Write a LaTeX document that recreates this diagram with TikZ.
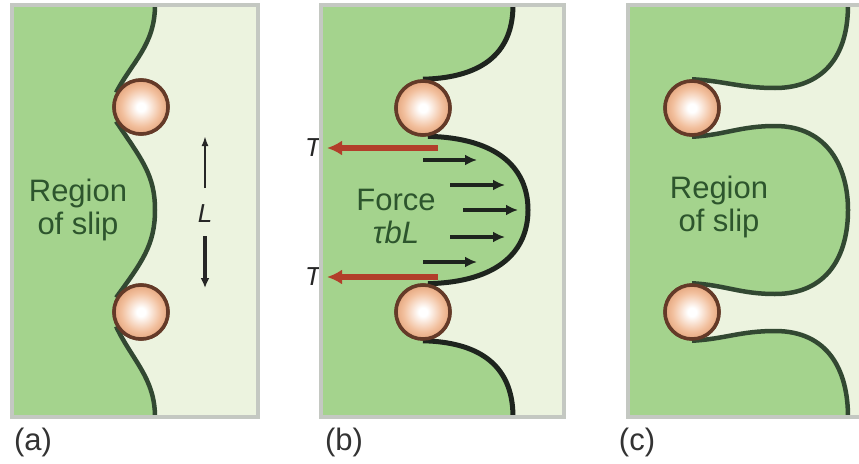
\documentclass[tikz,border=0pt]{standalone}
\usepackage{fontspec}
\setmainfont{Liberation Sans}
\usetikzlibrary{arrows.meta}
\definecolor{slipgreen}{RGB}{164,211,141}
\definecolor{paleg}{RGB}{236,243,223}
\definecolor{frameg}{RGB}{196,200,194}
\definecolor{lineg}{RGB}{50,72,50}
\definecolor{lineb}{RGB}{30,36,30}
\definecolor{txtg}{RGB}{45,85,45}
\definecolor{tred}{RGB}{178,62,42}
\definecolor{pout}{RGB}{218,145,100}
\definecolor{pmid}{RGB}{242,192,158}
\definecolor{prim}{RGB}{100,58,40}
\pgfdeclareradialshading{ballshade}{\pgfpoint{0bp}{0bp}}{color(0bp)=(white); color(4bp)=(white); color(18bp)=(pmid); color(31bp)=(pout); color(50bp)=(pout)}
\tikzset{
  frame/.style={draw=frameg, line width=3.5pt},
  bnd/.style={draw=lineg, line width=4.5pt},
  bndb/.style={draw=lineb, line width=5pt},
  particle/.style={circle, minimum size=54pt, inner sep=0pt, draw=prim, line width=3.5pt, shading=ballshade},
  lbl/.style={font=\fontsize{31}{33}\selectfont, text=txtg, align=center},
  captxt/.style={font=\fontsize{31}{33}\selectfont, text=black!80},
  sym/.style={font=\fontsize{26}{28}\selectfont\itshape, text=black!85},
  tarrow/.style={draw=tred, line width=6pt, -{Latex[length=15pt,width=15pt]}},
  farrow/.style={draw=lineb, line width=3.2pt, -{Latex[length=12pt,width=11pt]}},
}
\begin{document}
\begin{tikzpicture}[x=1pt,y=-1pt]
\useasboundingbox (0,0) rectangle (859,463);
% ---------- panel (a)
\fill[paleg] (12,5) rectangle (258,417);
\fill[slipgreen] (12,5) -- (155,5) .. controls (155,45) and (132,62) .. (122,85) -- (141,107) -- (122,130)
  .. controls (142,160) and (155,175) .. (155,210) .. controls (155,245) and (142,262) .. (122,290)
  -- (141,312) -- (122,335) .. controls (132,360) and (155,378) .. (155,417) -- (12,417) -- cycle;
\coordinate (atop) at (155,5);
\coordinate (abot) at (155,417);
\node[particle] (pa1) at (141,107) {};
\node[particle] (pa2) at (141,312) {};
\draw[bnd] (atop) .. controls (155,45) and (132,62) .. (pa1.150);
\draw[bnd] (pa1.210) .. controls (142,160) and (155,175) .. (155,210) .. controls (155,245) and (142,262) .. (pa2.150);
\draw[bnd] (pa2.210) .. controls (132,360) and (155,378) .. (abot);
\node[particle] at (pa1) {};
\node[particle] at (pa2) {};
\node[lbl] (ra) at (78,210) {Region\\of slip};
\node[sym] (L) at (205,214) {L};
\coordinate (la1) at (205,188);
\coordinate (la2) at (205,136);
\coordinate (lb1) at (205,236);
\coordinate (lb2) at (205,288);
\draw[draw=black!85, line width=2pt, -{Latex[length=10pt,width=7pt]}] (la1) -- (la2);
\draw[draw=black!85, line width=4pt, -{Latex[length=10pt,width=9pt]}] (lb1) -- (lb2);
\draw[frame] (12,5) rectangle (258,417);
\node[captxt] (capa) at (33,442) {(a)};
% ---------- panel (b)
\fill[paleg] (321,5) rectangle (564,417);
\fill[slipgreen] (321,5) -- (513,5) .. controls (513,62) and (470,78) .. (423,81) -- (423,108) -- (428,135)
  .. controls (500,138) and (528,170) .. (528,210) .. controls (528,250) and (500,282) .. (428,285)
  -- (423,312) -- (423,339) .. controls (475,342) and (513,362) .. (513,417) -- (321,417) -- cycle;
\coordinate (btop) at (513,5);
\coordinate (bbot) at (513,417);
\node[particle] (pb1) at (423,108) {};
\node[particle] (pb2) at (423,312) {};
\draw[bndb] (btop) .. controls (513,62) and (470,78) .. (pb1.north);
\draw[bndb] (pb1.-80) .. controls (500,138) and (528,170) .. (528,210) .. controls (528,250) and (500,282) .. (pb2.80);
\draw[bndb] (pb2.south) .. controls (475,342) and (513,362) .. (bbot);
\node[particle] at (pb1) {};
\node[particle] at (pb2) {};
\coordinate (t1s) at (438,148);
\coordinate (t1e) at (327,148);
\coordinate (t2s) at (438,277);
\coordinate (t2e) at (327,277);
\draw[tarrow] (t1s) -- (t1e);
\draw[tarrow] (t2s) -- (t2e);
\node[sym] (T1) at (313,148) {T};
\node[sym] (T2) at (313,277) {T};
\coordinate (f1s) at (423,160); \coordinate (f1e) at (477,160);
\coordinate (f2s) at (450,185); \coordinate (f2e) at (505,185);
\coordinate (f3s) at (463,210); \coordinate (f3e) at (518,210);
\coordinate (f4s) at (450,237); \coordinate (f4e) at (505,237);
\coordinate (f5s) at (423,262); \coordinate (f5e) at (477,262);
\draw[farrow] (f1s) -- (f1e);
\draw[farrow] (f2s) -- (f2e);
\draw[farrow] (f3s) -- (f3e);
\draw[farrow] (f4s) -- (f4e);
\draw[farrow] (f5s) -- (f5e);
\node[lbl] (force) at (396,216) {Force\\\itshape τbL};
\draw[frame] (321,5) rectangle (564,417);
\node[captxt] (capb) at (344,442) {(b)};
% ---------- panel (c)
\fill[paleg] (628,5) rectangle (875,417);
\fill[slipgreen] (628,5) -- (848,5) .. controls (848,65) and (815,88) .. (775,88) .. controls (740,88) and (725,81) .. (692,81)
  -- (692,135) .. controls (725,135) and (740,126) .. (775,126) .. controls (828,126) and (848,168) .. (848,210)
  .. controls (848,255) and (828,294) .. (775,294) .. controls (740,294) and (725,285) .. (692,285)
  -- (692,339) .. controls (725,339) and (740,331) .. (775,331) .. controls (828,331) and (848,370) .. (848,417)
  -- (628,417) -- cycle;
\coordinate (ctop) at (848,5);
\coordinate (cbot) at (848,417);
\node[particle] (pc1) at (692,108) {};
\node[particle] (pc2) at (692,312) {};
\draw[bnd] (ctop) .. controls (848,65) and (815,88) .. (775,88) .. controls (740,88) and (725,81) .. (pc1.north);
\draw[bnd] (pc1.south) .. controls (725,135) and (740,126) .. (775,126) .. controls (828,126) and (848,168) .. (848,210)
  .. controls (848,255) and (828,294) .. (775,294) .. controls (740,294) and (725,285) .. (pc2.north);
\draw[bnd] (pc2.south) .. controls (725,339) and (740,331) .. (775,331) .. controls (828,331) and (848,370) .. (cbot);
\node[particle] at (pc1) {};
\node[particle] at (pc2) {};
\node[lbl] (rc) at (719,207) {Region\\of slip};
\draw[frame] (628,5) rectangle (875,417);
\node[captxt] (capc) at (637,442) {(c)};
\end{tikzpicture}
\end{document}
